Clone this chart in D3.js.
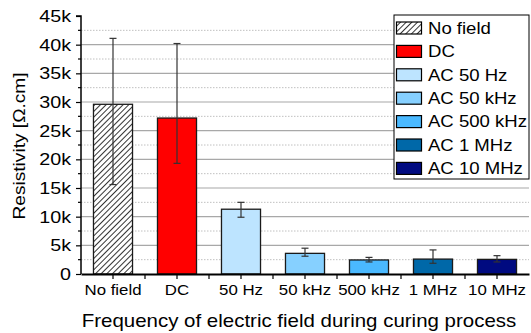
<!DOCTYPE html>
<html>
<head>
<meta charset="utf-8">
<script src="https://cdn.jsdelivr.net/npm/d3@7"></script>
<style>
  body { margin: 0; background: #fff; }
  text { font-family: "Liberation Sans", Arial, sans-serif; fill: #000; }
</style>
</head>
<body>
<div id="chart"></div>
<script>
const categories = ["No field", "DC", "50 Hz", "50 kHz", "500 kHz", "1 MHz", "10 MHz"];
const legendNames = ["No field", "DC", "AC 50 Hz", "AC 50 kHz", "AC 500 kHz", "AC 1 MHz", "AC 10 MHz"];
const values = [29600, 27200, 11300, 3600, 2450, 2600, 2550];
const errLow = [15600, 19300, 9900, 3100, 2100, 1870, 2100];
const errHigh = [41100, 40200, 12500, 4500, 2900, 4200, 3200];
const yTicks = [0, 5000, 10000, 15000, 20000, 25000, 30000, 35000, 40000, 45000];
const colors = ["url(#hatch)", "#ff0000", "#bde4ff", "#86d0ff", "#4ab9ff", "#0068a8", "#000a80"];

const W = 531, H = 333;
const M = { LEFT: 81, RIGHT: 2, TOP: 16, BOTTOM: 59 };
const PW = W - M.LEFT - M.RIGHT, PH = H - M.TOP - M.BOTTOM;
const STRETCH = 1.16;

const svg = d3.select("#chart").append("svg").attr("width", W).attr("height", H);

const pat = svg.append("defs").append("pattern")
  .attr("id", "hatch").attr("patternUnits", "userSpaceOnUse")
  .attr("width", 4).attr("height", 4)
  .attr("patternTransform", "rotate(45)");
pat.append("rect").attr("width", 4).attr("height", 4).attr("fill", "#fff");
pat.append("line").attr("x1", 0).attr("y1", 0).attr("x2", 0).attr("y2", 4)
  .attr("stroke", "#000").attr("stroke-width", 1.6);

const g = svg.append("g").attr("transform", `translate(${M.LEFT},${M.TOP})`);

const x = d3.scaleBand().domain(categories).range([0, PW]).paddingInner(0.39).paddingOuter(0.195);
const xc = d3.scaleBand().domain(categories).range([0, PW]);
const y = d3.scaleLinear().domain([0, 45000]).range([PH, 0]);

// grid
const minor = d3.range(2500, 45000, 5000);
g.selectAll(".minor").data(minor).join("line")
  .attr("x1", 0).attr("x2", PW).attr("y1", d => y(d)).attr("y2", d => y(d))
  .attr("stroke", "#c0c0c0").attr("stroke-dasharray", "1.5,1.5");
g.selectAll(".major").data(yTicks.filter(d => d > 0 && d < 45000)).join("line")
  .attr("x1", 0).attr("x2", PW).attr("y1", d => y(d)).attr("y2", d => y(d))
  .attr("stroke", "#a8a8a8").attr("stroke-width", 1.2);

// bars
g.selectAll(".bar").data(categories).join("rect")
  .attr("x", d => x(d)).attr("width", x.bandwidth())
  .attr("y", (d, i) => y(values[i])).attr("height", (d, i) => PH - y(values[i]))
  .attr("fill", (d, i) => colors[i])
  .attr("stroke", "#1a1a1a").attr("stroke-width", 1.3);

// error bars
const eb = g.selectAll(".err").data(categories).join("g")
  .attr("transform", d => `translate(${xc(d) + xc.bandwidth() / 2},0)`)
  .attr("stroke", "#333").attr("stroke-width", 1.2);
eb.append("line").attr("y1", (d, i) => y(errLow[i])).attr("y2", (d, i) => y(errHigh[i]));
eb.append("line").attr("x1", -3.5).attr("x2", 3.5).attr("y1", (d, i) => y(errLow[i])).attr("y2", (d, i) => y(errLow[i]));
eb.append("line").attr("x1", -3.5).attr("x2", 3.5).attr("y1", (d, i) => y(errHigh[i])).attr("y2", (d, i) => y(errHigh[i]));

// y axis
const yAxis = g.append("g").call(d3.axisLeft(y).tickValues(yTicks)
  .tickFormat(d => d === 0 ? "0" : (d / 1000) + "k").tickSize(5).tickPadding(5));
yAxis.select(".domain").attr("stroke-width", 1.5).attr("d", `M0,${PH}V0H-5`);
yAxis.selectAll("text").attr("font-size", 17).attr("font-family", "Liberation Sans, Arial, sans-serif");
yAxis.selectAll(".tick line").attr("stroke-width", 1.2);
g.selectAll(".yminor").data(minor).join("line")
  .attr("x1", -3).attr("x2", 0).attr("y1", d => y(d)).attr("y2", d => y(d))
  .attr("stroke", "#000").attr("stroke-width", 1.2);

// x axis
const xAxis = g.append("g").attr("transform", `translate(0,${PH})`)
  .call(d3.axisBottom(xc).tickSize(5).tickPadding(6).tickSizeOuter(0));
xAxis.select(".domain").attr("stroke-width", 2);
xAxis.selectAll("text").attr("font-size", 14.5).attr("font-family", "Liberation Sans, Arial, sans-serif");
xAxis.selectAll(".tick line").attr("stroke-width", 1.2);
g.selectAll(".xminor").data(categories.slice(1)).join("line")
  .attr("x1", d => xc(d)).attr("x2", d => xc(d)).attr("y1", PH).attr("y2", PH + 5)
  .attr("stroke", "#000").attr("stroke-width", 1.2);

// axis titles
svg.append("text").attr("x", 299).attr("y", 327).attr("text-anchor", "middle")
  .attr("font-size", 18.2).attr("data-s", 1.125).text("Frequency of electric field during curing process");
svg.append("text").attr("transform", "translate(25,146) rotate(-90)").attr("text-anchor", "middle")
  .attr("font-size", 16.5).text("Resistivity [Ω.cm]");

// legend
const lg = svg.append("g").attr("transform", "translate(394,15)");
lg.append("rect").attr("width", 135).attr("height", 164)
  .attr("fill", "#fff").attr("stroke", "#000").attr("stroke-width", 1);
const rowH = 23.4;
const item = lg.selectAll(".item").data(legendNames).join("g")
  .attr("transform", (d, i) => `translate(0,${13 + i * rowH})`);
item.append("rect").attr("x", 2.5).attr("y", -6).attr("width", 25).attr("height", 12)
  .attr("fill", (d, i) => colors[i]).attr("stroke", "#000").attr("stroke-width", 1.2);
item.append("text").attr("x", 34).attr("dy", "0.36em").attr("font-size", 16).text(d => d);

// the reference glyphs are wider than Liberation Sans: stretch each text horizontally
svg.selectAll("text").each(function () {
  const t = d3.select(this);
  const s = +(t.attr("data-s") || STRETCH);
  const x0 = +(t.attr("x") || 0);
  const tr = t.attr("transform") || "";
  t.attr("x", x0 / s).attr("transform", `${tr} scale(${s},1)`);
});
</script>
</body>
</html>
